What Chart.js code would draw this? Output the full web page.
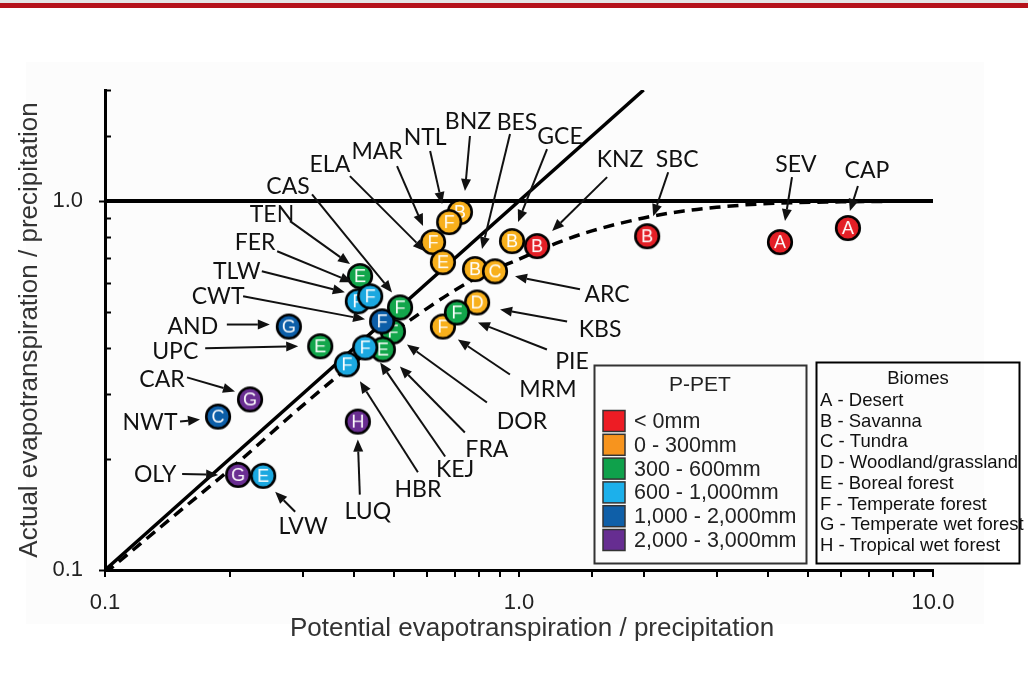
<!DOCTYPE html>
<html>
<head>
<meta charset="utf-8">
<script src="https://cdn.jsdelivr.net/npm/chart.js@4.4.1/dist/chart.umd.min.js"></script>
<style>
  html, body { margin: 0; padding: 0; background: #fff; }
  #wrap { width: 1028px; height: 692px; }
</style>
</head>
<body>
<div id="wrap"><canvas id="budyko" width="1028" height="692"></canvas></div>
<script>
// ---- data -----------------------------------------------------------------
// sites are listed in drawing order: later ones sit on top of earlier ones
const sites = ['SEV', 'CAP', 'SBC', 'GCE', 'KNZ', 'BNZ', 'NTL', 'MAR', 'ELA', 'BES',
               'ARC', 'KBS', 'MRM', 'PIE', 'TEN', 'TLW', 'FER', 'DOR', 'CWT', 'CAS',
               'UPC', 'AND', 'FRA', 'KEJ', 'HBR', 'LUQ', 'CAR', 'NWT', 'OLY', 'LVW'];
// potential evapotranspiration / precipitation
const petRatio = [4.27, 6.23, 2.04, 0.962, 1.106, 0.720, 0.678, 0.620, 0.655, 0.783,
                  0.875, 0.792, 0.655, 0.708, 0.413, 0.408, 0.437, 0.496, 0.467, 0.516,
                  0.331, 0.278, 0.469, 0.425, 0.384, 0.408, 0.224, 0.1875, 0.2097, 0.241];
// actual evapotranspiration / precipitation
const aetRatio = [0.774, 0.845, 0.803, 0.779, 0.755, 0.934, 0.877, 0.774, 0.683, 0.654,
                  0.645, 0.531, 0.457, 0.499, 0.626, 0.535, 0.552, 0.443, 0.472, 0.515,
                  0.404, 0.457, 0.396, 0.401, 0.361, 0.2525, 0.290, 0.2605, 0.181, 0.180];
const biomeCode = ['A', 'A', 'B', 'B', 'B', 'B', 'F', 'F', 'E', 'B',
                   'C', 'D', 'F', 'F', 'E', 'F', 'F', 'F', 'F', 'F',
                   'E', 'G', 'E', 'F', 'F', 'H', 'G', 'C', 'G', 'E'];
// index into ppetLabels
const ppetClass = [0, 0, 0, 1, 0, 1, 1, 1, 1, 1,
                   1, 1, 1, 2, 2, 3, 3, 2, 4, 2,
                   2, 4, 2, 3, 3, 5, 5, 4, 5, 3];

const ppetLabels = ['< 0mm', '0 - 300mm', '300 - 600mm', '600 - 1,000mm', '1,000 - 2,000mm', '2,000 - 3,000mm'];
const biomeLabels = ['A - Desert', 'B - Savanna', 'C - Tundra', 'D - Woodland/grassland',
                     'E - Boreal forest', 'F - Temperate forest', 'G - Temperate wet forest', 'H - Tropical wet forest'];

// Budyko curve
const budykoX = [0.1, 0.15, 0.2, 0.3, 0.4, 0.5, 0.6, 0.7, 0.8, 1.0, 1.25, 1.5, 2.0, 2.5, 3.0, 4.0, 6.0, 10.0];
const budykoY = [0.098, 0.143, 0.187, 0.279, 0.365, 0.443, 0.512, 0.573, 0.624, 0.696, 0.774, 0.83, 0.9, 0.94, 0.962, 0.985, 0.995, 1.0];
// energy limit (1:1) and water limit (AET = P)
const energyLimitX = [0.1, 2.0];
const energyLimitY = [0.1, 2.0];
const waterLimitX = [0.1, 10.0];
const waterLimitY = [1.0, 1.0];

const xTickValues = [0.1, 1, 10];
const xTickLabels = ['0.1', '1.0', '10.0'];
const yTickValues = [0.1, 1];
const yTickLabels = ['0.1', '1.0'];
const xTitle = 'Potential evapotranspiration / precipitation';
const yTitle = 'Actual evapotranspiration / precipitation';

// ---- styling --------------------------------------------------------------
const pointColors = ['#e31f26', '#f8b01c', '#12a64b', '#1ba8e0', '#0c5ea8', '#6a2e92'];
const swatchColors = ['#ed1c24', '#f7941e', '#0fa14b', '#1cb0eb', '#0f5fa8', '#662d91'];
const SANS = '"Liberation Sans", Arial, sans-serif';
const LABEL_FONT = '23px Lato, "Open Sans", sans-serif';

// label placement relative to each site marker, in px:
// [text dx, text dy, arrow tail dx, tail dy, arrow tip dx, tip dy]
const callouts = {
  SEV: [16, -78, 12, -65, 5, -21],
  CAP: [19, -57, 10, -42, 2, -17],
  SBC: [30, -77, 21, -64, 6, -20],
  KNZ: [83, -87, 70, -69, 15, -15],
  GCE: [48, -104, 35, -92, 6, -19],
  BES: [42, -147, 35, -135, 7, -20],
  BNZ: [8, -90, 10, -76, 5, -21],
  NTL: [-24, -85, -19, -71, -7, -18],
  MAR: [-56, -91, -36, -76, -10, -16],
  ELA: [-113, -98, -93, -86, -18, -11],
  CAS: [-112, -121, -88, -113, -8, -15],
  TEN: [-88, -62, -70, -55, -10, -12],
  FER: [-115, -54, -93, -45, -18, -14],
  TLW: [-121, -30, -96, -30, -13, -9],
  CWT: [-164, -25, -139, -25, -17, -2],
  AND: [-96, 0, -62, -2, -19, -2],
  UPC: [-145, 5, -115, 2, -22, 0],
  CAR: [-88, -20, -63, -22, -15, -8],
  NWT: [-68, 6, -38, 5, -18, 3],
  OLY: [-83, 0, -56, -1, -20, 0],
  LVW: [40, 51, 32, 36, 12, 16],
  LUQ: [10, 90, 2, 73, 0, 18],
  HBR: [71, 125, 71, 108, 13, 17],
  KEJ: [90, 122, 80, 109, 15, 15],
  FRA: [104, 100, 82, 83, 17, 17],
  DOR: [129, 90, 94, 71, 14, 13],
  MRM: [105, 63, 67, 48, 15, 13],
  PIE: [115, 49, 90, 37, 21, 10],
  KBS: [123, 27, 90, 19, 23, 7],
  ARC: [112, 23, 85, 18, 20, 5]
};

// circle marker with the biome letter baked in, so overlaps look right
function makeMarker(fill, letter) {
  const c = document.createElement('canvas');
  c.width = 32; c.height = 32;
  const g = c.getContext('2d');
  g.beginPath();
  g.arc(16, 16, 11.8, 0, Math.PI * 2);
  g.fillStyle = fill;
  g.fill();
  g.lineWidth = 2.6;
  g.strokeStyle = '#000';
  g.stroke();
  g.fillStyle = '#fff';
  g.font = '18px ' + SANS;
  g.textAlign = 'center';
  g.textBaseline = 'middle';
  g.fillText(letter, 16, 17);
  return c;
}

function pairs(xs, ys) {
  return xs.map((x, i) => ({ x: x, y: ys[i] }));
}

function tickText(value, values, labels) {
  const i = values.findIndex(v => Math.abs(Math.log10(v) - Math.log10(value)) < 1e-6);
  return i < 0 ? '' : labels[i];
}

function drawArrow(ctx, x0, y0, x1, y1) {
  const ang = Math.atan2(y1 - y0, x1 - x0);
  const head = 12, half = 5;
  const bx = x1 - head * Math.cos(ang), by = y1 - head * Math.sin(ang);
  ctx.beginPath();
  ctx.moveTo(x0, y0);
  ctx.lineTo(bx, by);
  ctx.stroke();
  ctx.beginPath();
  ctx.moveTo(x1, y1);
  ctx.lineTo(bx + half * Math.sin(ang), by - half * Math.cos(ang));
  ctx.lineTo(bx - half * Math.sin(ang), by + half * Math.cos(ang));
  ctx.closePath();
  ctx.fill();
}

// page backdrop: red rule along the top and a faint grey panel
const backdrop = {
  id: 'backdrop',
  beforeDraw(chart) {
    const ctx = chart.ctx;
    ctx.save();
    ctx.fillStyle = '#ffffff';
    ctx.fillRect(0, 0, chart.width, chart.height);
    ctx.fillStyle = '#e4e4e4';
    ctx.fillRect(0, 0, chart.width, 3);
    ctx.fillStyle = '#b5121b';
    ctx.fillRect(0, 3, chart.width, 5);
    ctx.fillStyle = '#fcfcfc';
    ctx.fillRect(26, 62, 958, 562);
    ctx.restore();
  }
};

// y ticks point into the plot, x title, callouts and the two legend boxes
const overlay = {
  id: 'overlay',
  afterDraw(chart) {
    const ctx = chart.ctx;
    const ys = chart.scales.y;
    const area = chart.chartArea;
    ctx.save();

    ctx.strokeStyle = '#000';
    ctx.lineWidth = 2;
    ys.ticks.forEach(t => {
      const py = Math.round(ys.getPixelForValue(t.value)) + 0.5;
      const major = tickText(t.value, yTickValues, yTickLabels) !== '';
      ctx.beginPath();
      ctx.moveTo(area.left - (major ? 6 : 0), py);
      ctx.lineTo(area.left + 6, py);
      ctx.stroke();
    });

    // x title sits a little right of the plot centre
    ctx.fillStyle = '#333';
    ctx.font = '26px ' + SANS;
    ctx.textAlign = 'center';
    ctx.textBaseline = 'middle';
    ctx.fillText(xTitle, (area.left + area.right) / 2 + 13, 629);

    // site callouts
    const meta = chart.getDatasetMeta(0);
    ctx.font = LABEL_FONT;
    ctx.fillStyle = '#111';
    ctx.strokeStyle = '#111';
    ctx.lineWidth = 2;
    sites.forEach((name, i) => {
      const c = callouts[name];
      const pt = meta.data[i];
      if (!c || !pt) return;
      drawArrow(ctx, pt.x + c[2], pt.y + c[3], pt.x + c[4], pt.y + c[5]);
      ctx.fillText(name, pt.x + c[0], pt.y + c[1]);
    });

    // P-PET legend
    ctx.lineWidth = 2;
    ctx.strokeStyle = '#333';
    ctx.strokeRect(594.5, 365.5, 212, 198);
    ctx.fillStyle = '#222';
    ctx.font = '21px ' + SANS;
    ctx.textAlign = 'center';
    ctx.fillText('P-PET', 700, 385);
    ctx.textAlign = 'left';
    ctx.font = '21.5px ' + SANS;
    ppetLabels.forEach((lab, i) => {
      const cy = 421 + i * 23.8;
      ctx.fillStyle = swatchColors[i];
      ctx.fillRect(603, cy - 10.5, 22, 21);
      ctx.lineWidth = 1.5;
      ctx.strokeStyle = '#333';
      ctx.strokeRect(603, cy - 10.5, 22, 21);
      ctx.fillStyle = '#222';
      ctx.fillText(lab, 634, cy + 1);
    });

    // biome legend
    ctx.lineWidth = 2;
    ctx.strokeStyle = '#000';
    ctx.strokeRect(816.5, 362.5, 203, 201);
    ctx.fillStyle = '#111';
    ctx.font = '18.5px ' + SANS;
    ctx.textAlign = 'center';
    ctx.fillText('Biomes', 918, 379);
    ctx.textAlign = 'left';
    biomeLabels.forEach((lab, i) => {
      ctx.fillText(lab, 820, 401 + i * 20.7);
    });

    ctx.restore();
  }
};

const siteDataset = {
  label: 'Sites',
  data: pairs(petRatio, aetRatio),
  pointStyle: sites.map((_, i) => makeMarker(pointColors[ppetClass[i]], biomeCode[i])),
  pointRadius: 13,
  showLine: false
};

const waterLimit = {
  label: 'AET = P',
  data: pairs(waterLimitX, waterLimitY),
  showLine: true,
  borderColor: '#000',
  borderWidth: 4,
  pointRadius: 0
};

const energyLimit = {
  label: 'AET = PET',
  data: pairs(energyLimitX, energyLimitY),
  showLine: true,
  borderColor: '#000',
  borderWidth: 3.5,
  pointRadius: 0
};

const budyko = {
  label: 'Budyko',
  data: pairs(budykoX, budykoY),
  showLine: true,
  borderColor: '#000',
  borderWidth: 3.5,
  borderDash: [11, 7],
  cubicInterpolationMode: 'monotone',
  pointRadius: 0
};

new Chart(document.getElementById('budyko'), {
  type: 'scatter',
  data: { datasets: [siteDataset, waterLimit, energyLimit, budyko] },
  options: {
    responsive: false,
    animation: false,
    devicePixelRatio: 1,
    events: [],
    layout: { padding: { left: 10, top: 90, right: 95, bottom: 0 } },
    plugins: {
      legend: { display: false },
      tooltip: { enabled: false }
    },
    scales: {
      x: {
        type: 'logarithmic',
        min: 0.1,
        max: 10,
        border: { color: '#000', width: 3 },
        grid: { drawOnChartArea: false, drawTicks: true, tickLength: 7, color: '#000', lineWidth: 2 },
        ticks: {
          autoSkip: false,
          maxRotation: 0,
          padding: 13,
          color: '#222',
          font: { family: SANS, size: 22 },
          callback: v => tickText(v, xTickValues, xTickLabels)
        },
        afterFit: s => { s.height = 122; }
      },
      y: {
        type: 'logarithmic',
        min: 0.1,
        max: 2,
        border: { color: '#000', width: 3 },
        grid: { drawOnChartArea: false, drawTicks: false },
        ticks: {
          autoSkip: false,
          padding: 22,
          color: '#222',
          font: { family: SANS, size: 22 },
          callback: v => tickText(v, yTickValues, yTickLabels)
        },
        title: {
          display: true,
          text: yTitle,
          color: '#333',
          font: { family: SANS, size: 26 },
          padding: { top: 4, bottom: 4 }
        },
        afterFit: s => { s.width = 95; }
      }
    }
  },
  plugins: [backdrop, overlay]
});
</script>
</body>
</html>
